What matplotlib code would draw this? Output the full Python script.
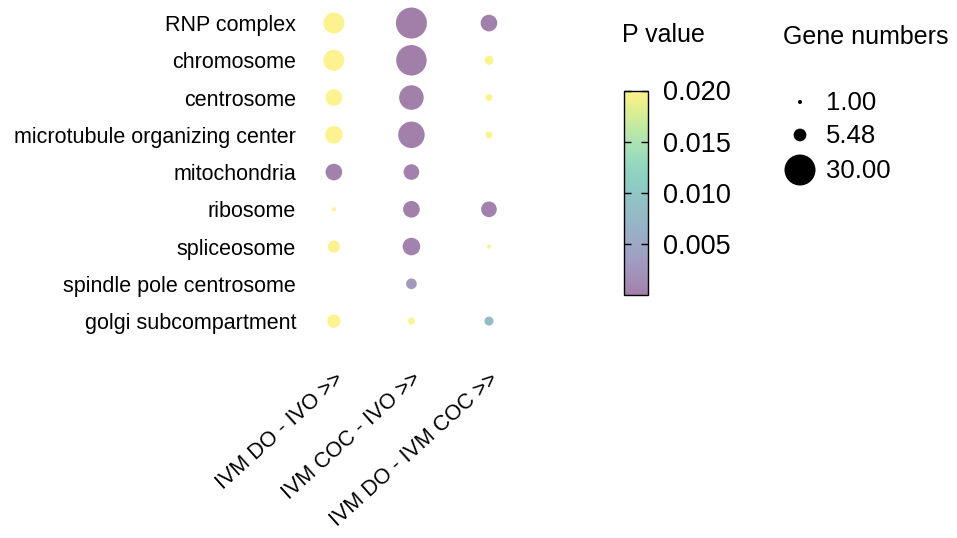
import numpy as np
import matplotlib
matplotlib.use("Agg")
import matplotlib.pyplot as plt

plt.rcParams["font.family"] = ["Liberation Sans", "DejaVu Sans"]

# Дані
terms = [
    "RNP complex",
    "chromosome",
    "centrosome",
    "microtubule organizing center",
    "mitochondria",
    "ribosome",
    "spliceosome",
    "spindle pole centrosome",
    "golgi subcompartment",
]
comparisons = ["IVM DO - IVO >>", "IVM COC - IVO >>", "IVM DO - IVM COC >>"]

nan = np.nan
genes_do_ivo = [14, 14, 9, 10, 9, 1, 5, nan, 6]
genes_coc_ivo = [30, 29, 19, 22, 8, 9, 10, 4, 2]
genes_do_coc = [9, 3, 2, 2, nan, 8, 1, nan, 3]

pval_do_ivo = [0.0199, 0.0199, 0.0199, 0.0199, 0.0004, 0.0199, 0.0199, nan, 0.0199]
pval_coc_ivo = [0.0001, 0.0001, 0.0002, 0.0002, 0.0004, 0.0003, 0.0005, 0.003, 0.0199]
pval_do_coc = [0.0003, 0.0199, 0.0199, 0.0199, nan, 0.0004, 0.0199, nan, 0.008]

p_ticks = [0.005, 0.010, 0.015, 0.020]
p_min, p_max = 0.00005, 0.020
size_breaks = [1.00, 5.48, 30.00]


def dot_size(n):
    # площа точки пропорційна кількості генів
    d_px = np.sqrt(16 + 32.6 * (np.asarray(n, dtype=float) - 1))
    return (d_px * 0.72) ** 2


fig = plt.figure(figsize=(9.57, 5.38), dpi=100)
ax = fig.add_axes([0.3124, 0.3617, 0.235, 0.637])

y_pos = np.arange(len(terms), 0, -1)
series = [
    (genes_do_ivo, pval_do_ivo),
    (genes_coc_ivo, pval_coc_ivo),
    (genes_do_coc, pval_do_coc),
]
sc = None
for j, (genes, pvals) in enumerate(series):
    genes = np.array(genes, dtype=float)
    pvals = np.array(pvals, dtype=float)
    ok = ~np.isnan(genes)
    sc = ax.scatter(
        np.full(ok.sum(), j + 1), y_pos[ok],
        s=dot_size(genes[ok]), c=pvals[ok],
        cmap="viridis", vmin=p_min, vmax=p_max,
        alpha=0.5, edgecolors="none",
    )

ax.set_xlim(0.55, 3.45)
ax.set_ylim(0.4, len(terms) + 0.6)
ax.set_yticks(y_pos)
ax.set_yticklabels(terms, fontsize=15.5)
ax.set_xticks([1, 2, 3])
ax.set_xticklabels(comparisons, rotation=42, ha="right", va="top",
                   rotation_mode="anchor", fontsize=15.5)
ax.tick_params(axis="y", length=0, pad=2)
ax.tick_params(axis="x", length=0, pad=18)
for s in ax.spines.values():
    s.set_visible(False)

# Шкала кольору
cax = fig.add_axes([624 / 957, 1 - 295 / 538, 24 / 957, 204.5 / 538])
cb = fig.colorbar(sc, cax=cax, ticks=p_ticks, format="%.3f")
cb.outline.set_edgecolor("black")
cb.outline.set_linewidth(1)
cb.ax.tick_params(direction="in", length=5, width=1, left=True, right=True,
                  labelsize=19.5, pad=11, colors="black")
fig.text(622 / 957, 1 - 35 / 538, "P value", fontsize=18, va="center", ha="left")

# Легенда розмірів
fig.text(783 / 957, 1 - 37 / 538, "Gene numbers", fontsize=18, va="center", ha="left")
leg = fig.add_axes([0, 0, 1, 1])
leg.set_xlim(0, 957)
leg.set_ylim(538, 0)
leg.axis("off")
leg_y = [102, 135, 170]
leg.scatter([800] * len(size_breaks), leg_y, s=dot_size(size_breaks),
            color="black", edgecolors="none")
for v, yy in zip(size_breaks, leg_y):
    leg.text(826, yy + 1, f"{v:.2f}", fontsize=18.5, va="center", ha="left")

fig.savefig("out.png", dpi=100)
